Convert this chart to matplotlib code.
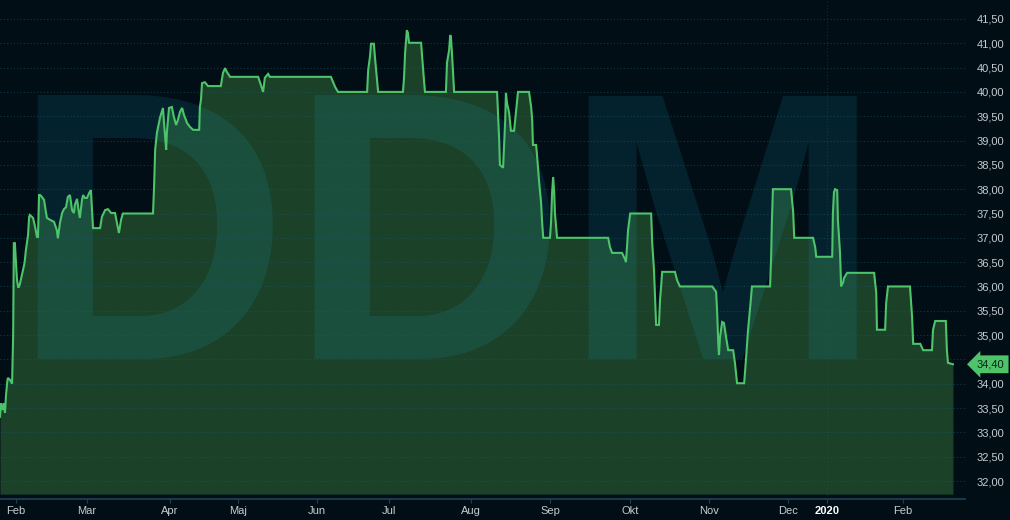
import numpy as np
import matplotlib
matplotlib.use("Agg")
import matplotlib.pyplot as plt
import matplotlib.transforms as mtransforms

# session index (0 = first session in Feb 2019) and price
days = [-4.5, -4.2, -3.7, -3.4, -3.1, -2.8, -2.5, -2.3, -1.7, -1.1, -0.8, -0.7, -0.6, -0.3,
        0.0, 0.3, 0.6, 0.8, 1.1, 1.7, 2.3, 2.5, 2.8, 3.4, 3.7, 3.9, 4.8, 5.4, 5.9, 6.2,
        6.5, 6.8, 7.3, 7.9, 8.7, 9.6, 10.7, 11.5, 11.8, 12.4, 13.0, 13.5, 14.1, 14.6, 15.2,
        15.8, 16.3, 16.6, 17.2, 17.7, 18.0, 18.6, 18.9, 19.4, 20.0, 20.6, 21.1, 21.7, 23.7,
        24.2, 25.1, 25.9, 26.8, 27.9, 28.7, 29.0, 29.6, 30.1, 38.6, 38.9, 39.2, 39.7, 40.6,
        41.4, 41.7, 42.3, 42.5, 43.1, 43.9, 44.5, 45.1, 45.6, 46.2, 46.8, 47.3, 48.2, 49.0,
        49.9, 51.6, 51.8, 52.1, 52.4, 53.2, 54.1, 57.7, 58.3, 58.9, 59.4, 60.3, 68.2, 69.0,
        69.6, 70.1, 71.0, 71.5, 88.7, 89.9, 90.7, 98.9, 99.2, 99.7, 100.0, 100.8, 101.1,
        101.7, 102.0, 109.0, 109.3, 109.6, 110.1, 110.4, 110.7, 114.1, 114.4, 114.9, 115.2,
        121.1, 121.4, 122.0, 122.3, 122.5, 122.8, 123.1, 123.4, 135.5, 135.8, 136.1, 136.3,
        137.2, 137.5, 137.8, 138.0, 138.3, 138.9, 139.4, 140.3, 140.9, 141.4, 144.5, 145.1,
        145.4, 145.6, 146.5, 146.8, 147.3, 147.9, 148.2, 148.5, 150.4, 150.7, 151.0, 151.3,
        151.6, 151.8, 152.4, 166.8, 167.3, 167.9, 170.7, 171.6, 171.8, 172.1, 172.4, 173.0,
        178.9, 179.2, 179.7, 180.0, 180.3, 181.1, 181.4, 181.7, 182.0, 185.6, 186.2, 187.0,
        196.1, 197.2, 197.5, 197.8, 198.0, 198.3, 198.9, 199.4, 200.0, 200.6, 202.0, 202.5,
        203.1, 205.1, 205.6, 206.2, 206.8, 207.3, 212.4, 212.7, 212.9, 213.2, 218.3, 218.9,
        219.2, 224.5, 225.1, 225.4, 229.9, 230.1, 230.4, 230.7, 231.3, 231.5, 232.1, 232.4,
        233.0, 233.2, 234.1, 241.7, 242.3, 242.5, 244.8, 245.1, 245.6, 251.8, 252.4, 252.7,
        254.7, 255.5, 258.0, 258.3, 258.9, 261.9, 262.2, 262.5, 263.9]
price = [33.32, 33.60, 33.46, 33.60, 33.40, 33.77, 34.01, 34.12, 34.08, 34.00, 34.96, 35.93, 36.89, 36.89,
         36.48, 36.13, 35.99, 35.99, 36.05, 36.24, 36.44, 36.54, 36.75, 37.06, 37.43, 37.47, 37.41, 37.22, 37.02, 37.02,
         37.88, 37.88, 37.84, 37.78, 37.41, 37.37, 37.33, 37.16, 36.99, 37.31, 37.51, 37.59, 37.63, 37.84, 37.88,
         37.57, 37.51, 37.68, 37.80, 37.53, 37.41, 37.78, 37.88, 37.82, 37.82, 37.92, 37.98, 37.20, 37.20,
         37.43, 37.57, 37.59, 37.51, 37.51, 37.22, 37.10, 37.37, 37.50, 37.50, 38.05, 38.81, 39.16, 39.48,
         39.67, 39.36, 38.81, 39.16, 39.67, 39.69, 39.48, 39.32, 39.42, 39.59, 39.67, 39.53, 39.36, 39.28,
         39.22, 39.22, 39.69, 39.83, 40.18, 40.20, 40.12, 40.12, 40.39, 40.49, 40.41, 40.31, 40.31, 40.14,
         40.00, 40.29, 40.37, 40.31, 40.31, 40.10, 40.00, 40.00, 40.45, 40.72, 40.99, 40.99, 40.72,
         40.25, 40.00, 40.00, 40.29, 40.80, 41.27, 41.21, 41.01, 41.01, 40.72, 40.25, 40.00,
         40.00, 40.60, 40.86, 41.17, 41.13, 40.80, 40.39, 40.00, 40.00, 39.48, 39.01, 38.50,
         38.44, 38.91, 39.42, 39.98, 39.77, 39.57, 39.20, 39.20, 39.63, 40.00, 40.00, 39.69,
         39.42, 38.91, 38.91, 38.66, 38.19, 37.72, 37.31, 37.00, 37.00, 37.31, 37.92, 38.25,
         37.92, 37.51, 37.00, 37.00, 36.81, 36.69, 36.69, 36.55, 36.50, 36.81, 37.16, 37.50,
         37.50, 36.89, 36.34, 35.76, 35.21, 35.21, 35.72, 35.99, 36.30, 36.30, 36.13, 36.00,
         36.00, 35.89, 35.45, 34.84, 34.59, 34.96, 35.27, 35.25, 34.96, 34.69, 34.69, 34.43,
         34.01, 34.01, 34.49, 35.11, 35.58, 36.00, 36.00, 36.61, 37.31, 38.00, 38.00, 37.53,
         37.00, 37.00, 36.81, 36.61, 36.61, 37.51, 37.94, 38.00, 37.98, 37.37, 36.69, 36.00,
         36.09, 36.17, 36.28, 36.28, 35.87, 35.11, 35.11, 35.66, 36.00, 36.00, 35.37, 34.82,
         34.82, 34.69, 34.69, 35.11, 35.29, 35.29, 34.69, 34.43, 34.40]

month_pos = [0, 20.0, 43.4, 62.5, 84.8, 105.1, 128.2, 150.4, 173.0, 195.2, 217.5, 228.5, 249.9]
month_lbl = ["Feb", "Mar", "Apr", "Maj", "Jun", "Jul", "Aug", "Sep", "Okt", "Nov", "Dec", "2020", "Feb"]
price_ticks = np.arange(32.0, 41.51, 0.5)
last_price = 34.40
year_pos = 228.5

bg = "#020e16"
fill_c = "#1b4129"
line_c = "#4ec46a"
grid_c = "#1a5a73"
text_c = "#c5cbd0"

plt.rcParams['font.family'] = ['Liberation Sans', 'DejaVu Sans']

fig = plt.figure(figsize=(10.1, 5.2), dpi=100, facecolor=bg)
ax = fig.add_axes([0, 21 / 520, 965 / 1010, 499 / 520])
ax.set_facecolor(bg)

ax.fill_between(days, price, 31.73, color=fill_c, lw=0, zorder=1)

# watermark
for ch, cx in zip("DDM", [0.1554, 0.442, 0.748]):
    ax.text(cx, 0.281, ch, transform=ax.transAxes, ha="center", va="baseline",
            fontsize=276, fontweight="bold", color="#13b5d5", alpha=0.12, zorder=2)

for t in price_ticks:
    ax.axhline(t, color=grid_c, lw=0.8, ls=(0, (1, 2)), alpha=0.55, zorder=2.5)
ax.axvline(year_pos, color=grid_c, lw=0.8, ls=(0, (1, 2)), alpha=0.4, zorder=2.5)

ax.plot(days, price, color=line_c, lw=1.5, zorder=3, solid_joinstyle="miter")

ax.set_xlim(-4.5, 267.3)
ax.set_ylim(31.63, 41.89)

ax.set_xticks(month_pos)
ax.set_xticklabels(month_lbl)
for lbl in ax.get_xticklabels():
    lbl.set_color(text_c)
    lbl.set_fontsize(8)
    if lbl.get_text() == "2020":
        lbl.set_fontweight("bold")
        lbl.set_color("white")
ax.tick_params(axis="x", length=3, width=0.8, color="#1c4358", pad=2)

# the last-price tag covers the 34,50 label
ax.yaxis.tick_right()
ax.set_yticks(price_ticks)
ax.set_yticklabels(["" if abs(v - last_price) < 0.25 else f"{v:.2f}".replace(".", ",")
                    for v in price_ticks])
ax.tick_params(axis="y", length=0, pad=8.6, labelsize=8, labelcolor=text_c)

for s in ["top", "left", "right"]:
    ax.spines[s].set_visible(False)
ax.spines["bottom"].set_color("#1c4358")
ax.spines["bottom"].set_linewidth(1.2)

# last price tag
trans = mtransforms.blended_transform_factory(ax.transAxes, ax.transData)
ax.text(1.0 + 12 / 965, last_price, f"{last_price:.2f}".replace(".", ","), transform=trans,
        ha="left", va="center", fontsize=8, color="#0b2415", clip_on=False,
        bbox=dict(boxstyle="larrow,pad=0.35", fc=line_c, ec="none"))

fig.savefig("out.png", dpi=100, facecolor=bg)
